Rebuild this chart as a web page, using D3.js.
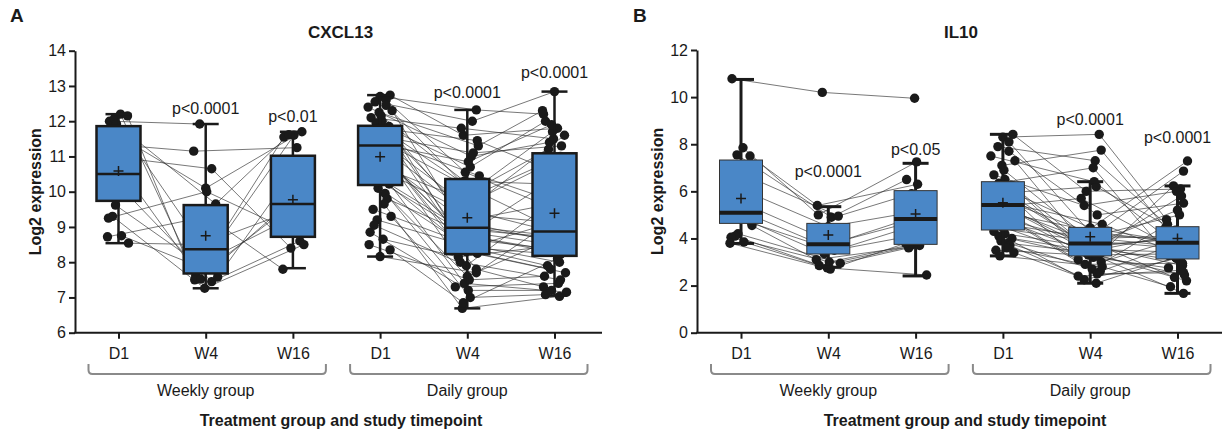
<!DOCTYPE html>
<html lang="en">
<head>
<meta charset="UTF-8">
<title>CXCL13 and IL10 expression by treatment group</title>
<style>
  body { margin: 0; background: #fff; }
  svg text { font-family: "Liberation Sans", Arial, sans-serif; fill: #1a1a1a; }
</style>
<script src="https://cdn.jsdelivr.net/npm/d3@7"></script>
</head>
<body>
<script>
// ---- categories ----
const timepoints = ["D1", "W4", "W16", "D1", "W4", "W16"];
const groups = ["Weekly group", "Daily group"];

// ---- CXCL13 (panel A), per subject ----
const aWeeklyD1  = [12.0, 12.2, 12.08, 12.15, 11.92, 11.5, 10.95, 10.6, 10.4, 11.3, 9.62, 9.3, 9.25, 8.75, 8.72, 8.54];
const aWeeklyW4  = [11.92, 7.62, 8.2, 7.5, 9.65, 10.1, 10.65, 7.52, 7.45, 11.15, 7.58, 7.26, 10.0, 7.9, 9.3, 8.5];
const aWeeklyW16 = [null, 11.6, 11.55, 9.7, 11.62, 11.7, 8.4, 9.9, 8.6, 11.25, 10.3, 8.5, 8.9, 9.2, 7.8, 9.5];

const aDailyD1 = [12.74, 12.7, 12.6, 12.55, 12.45, 12.4, 12.3, 12.25, 12.15, 12.1,
  12.0, 11.95, 11.85, 11.8, 11.75, 11.7, 11.65, 11.6, 11.55, 11.5,
  11.45, 11.4, 11.38, 11.35, 11.32, 11.25, 11.15, 11.05, 10.95, 10.85,
  10.75, 10.65, 10.55, 10.45, 10.35, 10.28, 10.22, 10.1, 9.95, 9.8,
  9.65, 9.5, 9.3, 9.2, 9.05, 8.85, 8.65, 8.5, 8.35, 8.16];
const aDailyW4 = [11.6, 12.32, 10.55, 12.0, 9.9, 11.0, 9.15, 11.3, 10.3, 11.8,
  9.55, 10.7, 8.8, 11.45, 9.35, 10.05, 8.52, 11.1, 8.95, 10.45,
  8.3, 10.85, 9.8, 8.65, 10.2, 7.8, 9.45, 9.0, 8.4, 9.7,
  8.0, 9.25, 7.4, 8.88, 8.6, 7.0, 9.05, 8.25, 7.6, 8.72,
  6.69, 8.45, 7.3, 8.35, 7.9, 7.2, 8.15, 7.5, 6.85, 7.7];
const aDailyW16 = [11.8, 12.2, 9.4, 12.84, 11.0, 11.4, 8.55, 12.3, 10.2, 11.5,
  8.85, 12.0, 8.32, 10.6, 9.1, 11.7, 8.0, 11.3, 8.7, 9.8,
  7.7, 11.9, 11.2, 8.4, 8.9, 7.3, 11.6, 8.75, 8.22, 10.8,
  7.5, 9.6, 7.15, 8.5, 10.4, 7.08, 8.62, 7.8, 8.8, 8.28,
  7.03, 9.2, 7.4, 7.9, 10.0, 7.2, 8.45, 7.6, 8.1, 9.0];

// box summaries (one per timepoint column)
const aQ1   = [9.74, 7.68, 8.72, 10.19, 8.23, 8.18];
const aMed  = [10.5, 8.37, 9.65, 11.31, 8.98, 8.87];
const aQ3   = [11.86, 9.62, 11.02, 11.87, 10.36, 11.09];
const aMean = [10.59, 8.75, 9.77, 10.99, 9.26, 9.39];
const aLow  = [8.54, 7.26, 7.83, 8.16, 6.69, 7.05];
const aHigh = [12.2, 11.92, 11.7, 12.74, 12.32, 12.84];
const aPText = [null, "p<0.0001", "p<0.01", null, "p<0.0001", "p<0.0001"];
const aPAt   = [null, 12.2, 11.99, null, 12.65, 13.22];

// ---- IL10 (panel B), per subject ----
const bWeeklyD1  = [10.78, 7.85, 7.55, 7.5, 6.8, 6.0, 5.4, 5.1, 4.9, 4.55, 4.2, 4.1, 4.05, 3.85, 3.8, 4.7];
const bWeeklyW4  = [10.2, 5.0, 4.9, 5.4, 4.95, 4.5, 3.8, 3.7, 3.5, 3.1, 2.95, 2.75, 3.0, 2.85, 2.7, 3.35];
const bWeeklyW16 = [9.95, 7.25, 6.5, 6.3, 5.9, 5.2, 4.9, 4.8, 4.2, 3.7, 3.6, 2.45, 3.75, 3.65, 3.8, 4.6];

const bDailyD1 = [8.42, 8.3, 8.1, 7.9, 7.7, 7.5, 7.3, 7.1, 6.9, 6.7,
  6.5, 6.35, 6.25, 6.15, 6.05, 5.95, 5.85, 5.75, 5.65, 5.58,
  5.5, 5.45, 5.38, 5.3, 5.2, 5.1, 5.0, 4.9, 4.8, 4.7,
  4.6, 4.5, 4.4, 4.3, 4.2, 4.1, 4.0, 3.9, 3.8, 3.7,
  3.6, 3.5, 3.4, 3.26];
const bDailyW4 = [6.0, 8.42, 4.35, 7.3, 5.0, 6.41, 3.82, 7.75, 4.05, 5.4,
  3.6, 7.0, 3.95, 3.35, 4.45, 6.2, 3.77, 4.15, 3.1, 4.6,
  3.45, 3.85, 5.7, 2.7, 3.65, 4.25, 3.3, 3.8, 2.5, 4.0,
  3.5, 3.0, 3.9, 2.25, 3.7, 3.2, 3.55, 2.6, 3.4, 2.1,
  2.9, 3.27, 2.4, 2.8];
const bDailyW16 = [6.1, 4.8, 7.29, 4.18, 5.5, 3.85, 6.86, 4.45, 3.6, 6.0,
  4.02, 3.28, 5.0, 6.23, 3.78, 4.35, 2.85, 3.92, 5.8, 3.48,
  4.25, 2.35, 3.66, 4.6, 3.05, 3.88, 3.35, 5.2, 2.55, 4.1,
  1.67, 3.82, 3.55, 3.15, 3.96, 2.75, 3.42, 3.72, 2.2, 3.2,
  2.95, 2.45, 2.65, 1.95];

const bQ1   = [4.64, 3.34, 3.75, 4.36, 3.26, 3.13];
const bMed  = [5.09, 3.75, 4.83, 5.42, 3.79, 3.82];
const bQ3   = [7.33, 4.64, 6.03, 6.41, 4.47, 4.5];
const bMean = [5.70, 4.15, 5.04, 5.52, 4.07, 4.0];
const bLow  = [3.79, 2.78, 2.41, 3.26, 2.10, 1.67];
const bHigh = [10.75, 5.35, 7.19, 8.42, 6.41, 6.23];
const bPText = [null, "p<0.0001", "p<0.05", null, "p<0.0001", "p<0.0001"];
const bPAt   = [null, 6.62, 7.54, null, 8.82, 8.06];

// ---- canvas ----
const width = 1222, height = 437;
const svg = d3.select("body").append("svg").attr("width", width).attr("height", height);

const jitter = [-9, 5, -3, 10, -12, 2, 7, -6, 0, 12, -4, 4, -10, 6, -1, 9, -7, 3, -5, 1, -2, 11, -11, 6];
const boxFill = "#4a87c7";
const ink = "#1a1a1a";
const axisBase = 332.7;

function drawPanel(p) {
  const g = svg.append("g");
  const y = d3.scaleLinear().domain(p.yDomain).range([axisBase, p.yTop]);
  const x = d3.scalePoint().domain(d3.range(timepoints.length)).range(p.xRange);

  // panel letter + title
  g.append("text").attr("x", p.letterX).attr("y", 21.5)
    .style("font-size", "19px").style("font-weight", "bold").text(p.letter);
  g.append("text").attr("x", p.titleX).attr("y", 37.5).attr("text-anchor", "middle")
    .style("font-size", "17px").style("font-weight", "bold").text(p.title);

  // connecting lines, then dots
  const lines = g.append("g");
  const dots = g.append("g");
  p.series.forEach((grp, gi) => {
    const n = grp[0].length;
    for (let i = 0; i < n; i++) {
      const pts = grp.map((s, t) => {
        const v = s[i];
        if (v == null) return null;
        const k = gi * 3 + t;
        return [x(k) + jitter[(i * 5 + t * 7 + gi * 3) % jitter.length], y(v)];
      });
      for (let t = 0; t < pts.length - 1; t++) {
        if (pts[t] && pts[t + 1]) {
          lines.append("line")
            .attr("x1", pts[t][0]).attr("y1", pts[t][1])
            .attr("x2", pts[t + 1][0]).attr("y2", pts[t + 1][1])
            .attr("stroke", "#2e2e2e").attr("stroke-width", 0.65);
        }
      }
      pts.forEach(pt => {
        if (pt) dots.append("circle").attr("cx", pt[0]).attr("cy", pt[1]).attr("r", 4.7).attr("fill", ink);
      });
    }
  });

  // boxes
  const bw = p.boxW, cap = 13;
  d3.range(timepoints.length).forEach(k => {
    const cx = x(k);
    const b = g.append("g");
    b.append("line").attr("x1", cx).attr("x2", cx).attr("y1", y(p.q3[k])).attr("y2", y(p.hi[k]))
      .attr("stroke", ink).attr("stroke-width", p.whiskerW);
    b.append("line").attr("x1", cx).attr("x2", cx).attr("y1", y(p.q1[k])).attr("y2", y(p.lo[k]))
      .attr("stroke", ink).attr("stroke-width", p.whiskerW);
    b.append("line").attr("x1", cx - cap).attr("x2", cx + cap).attr("y1", y(p.hi[k])).attr("y2", y(p.hi[k]))
      .attr("stroke", ink).attr("stroke-width", p.whiskerW);
    b.append("line").attr("x1", cx - cap).attr("x2", cx + cap).attr("y1", y(p.lo[k])).attr("y2", y(p.lo[k]))
      .attr("stroke", ink).attr("stroke-width", p.whiskerW);
    b.append("rect").attr("x", cx - bw / 2).attr("y", y(p.q3[k]))
      .attr("width", bw).attr("height", y(p.q1[k]) - y(p.q3[k]))
      .attr("fill", boxFill).attr("stroke", p.boxStroke).attr("stroke-width", p.boxW_);
    b.append("line").attr("x1", cx - bw / 2).attr("x2", cx + bw / 2)
      .attr("y1", y(p.med[k])).attr("y2", y(p.med[k]))
      .attr("stroke", ink).attr("stroke-width", p.medW);
    const my = y(p.mean[k]);
    b.append("path").attr("d", `M${cx - 5},${my}H${cx + 5}M${cx},${my - 5}V${my + 5}`)
      .attr("stroke", ink).attr("stroke-width", 1.5);
    if (p.pText[k]) {
      b.append("text").attr("x", cx).attr("y", y(p.pAt[k])).attr("text-anchor", "middle")
        .style("font-size", "16px").text(p.pText[k]);
    }
  });

  // y axis
  const ya = g.append("g").attr("transform", `translate(${p.axisX},0)`)
    .call(d3.axisLeft(y).tickValues(p.yTicks).tickSize(6).tickSizeOuter(0).tickPadding(3));
  ya.select(".domain").attr("stroke", ink).attr("stroke-width", 2);
  ya.selectAll(".tick line").attr("stroke", ink).attr("stroke-width", 2);
  ya.selectAll(".tick text").style("font-size", "16px").style("font-family", "Liberation Sans, Arial, sans-serif").attr("fill", "#222");

  // x axis
  g.append("line").attr("x1", p.axisX - 1).attr("x2", p.axisEnd).attr("y1", axisBase).attr("y2", axisBase)
    .attr("stroke", ink).attr("stroke-width", 2);
  const xa = g.append("g").attr("transform", `translate(0,${axisBase})`)
    .call(d3.axisBottom(x).tickFormat(k => timepoints[k]).tickSize(6).tickPadding(9));
  xa.select(".domain").remove();
  xa.selectAll(".tick line").attr("stroke", ink).attr("stroke-width", 2);
  xa.selectAll(".tick text").style("font-size", "16px").style("font-family", "Liberation Sans, Arial, sans-serif").attr("fill", "#222");

  // group brackets
  groups.forEach((name, gi) => {
    const x0 = x(gi * 3) - 30, x1 = x(gi * 3 + 2) + 33, yt = 364, yb = 374, r = 4;
    g.append("path")
      .attr("d", `M${x0},${yt}V${yb - r}Q${x0},${yb} ${x0 + r},${yb}H${x1 - r}Q${x1},${yb} ${x1},${yb - r}V${yt}`)
      .attr("fill", "none").attr("stroke", "#8a8a8a").attr("stroke-width", 2);
    g.append("text").attr("x", x(gi * 3 + 1)).attr("y", 395.5).attr("text-anchor", "middle")
      .style("font-size", "16px").text(name);
  });

  // axis titles
  g.append("text").attr("x", p.xTitleX).attr("y", 426).attr("text-anchor", "middle")
    .style("font-size", "16px").style("font-weight", "bold").text("Treatment group and study timepoint");
  g.append("text").attr("transform", `translate(${p.axisX - 34},${(axisBase + p.yTop) / 2}) rotate(-90)`)
    .attr("text-anchor", "middle").style("font-size", "16px").style("font-weight", "bold").text("Log2 expression");
}

drawPanel({
  letter: "A", letterX: 10, title: "CXCL13", titleX: 340.5,
  axisX: 75, axisEnd: 602, xRange: [118.5, 554.5], xTitleX: 341,
  yDomain: [6, 14], yTop: 50.7, yTicks: d3.range(6, 15),
  series: [[aWeeklyD1, aWeeklyW4, aWeeklyW16], [aDailyD1, aDailyW4, aDailyW16]],
  q1: aQ1, med: aMed, q3: aQ3, mean: aMean, lo: aLow, hi: aHigh, pText: aPText, pAt: aPAt,
  boxW: 44, boxStroke: ink, boxW_: 2.5, medW: 2.5, whiskerW: 2.5
});

drawPanel({
  letter: "B", letterX: 633, title: "IL10", titleX: 961,
  axisX: 697, axisEnd: 1222, xRange: [741, 1177.5], xTitleX: 965,
  yDomain: [0, 12], yTop: 50, yTicks: d3.range(0, 13, 2),
  series: [[bWeeklyD1, bWeeklyW4, bWeeklyW16], [bDailyD1, bDailyW4, bDailyW16]],
  q1: bQ1, med: bMed, q3: bQ3, mean: bMean, lo: bLow, hi: bHigh, pText: bPText, pAt: bPAt,
  boxW: 43, boxStroke: "#333", boxW_: 1, medW: 4, whiskerW: 3
});
</script>
</body>
</html>
